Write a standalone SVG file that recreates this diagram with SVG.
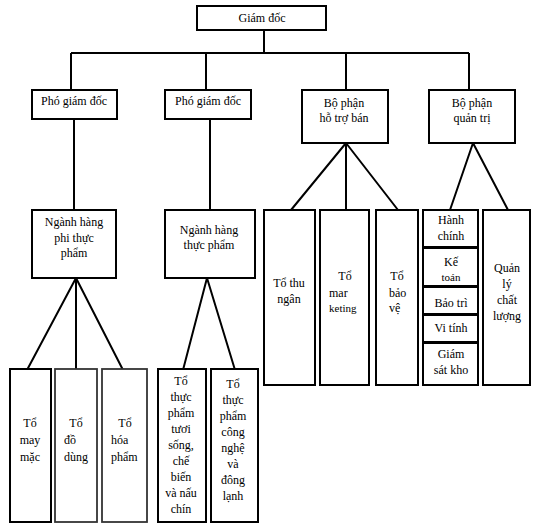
<svg xmlns="http://www.w3.org/2000/svg" width="537" height="532" viewBox="0 0 537 532">
<style>
.b{fill:#fff;stroke:#000;stroke-width:2}
.g{fill:#fff;stroke:#333;stroke-width:1.8}
.c{fill:none;stroke:#000;stroke-width:2}
text{font-family:"Liberation Serif","Times New Roman",serif;font-size:12px;fill:#000}
.m{text-anchor:middle}
.s{font-size:11px}
</style>
<rect width="537" height="532" fill="#fff"/>
<g id="connectors">
<path class="c" d="M264 30V53M71 53H469M71 53V90M206 53V90M346 53V90M469 53V90"/>
<path class="c" d="M74 119V210M210 119V210"/>
<path class="c" d="M76 278L27 370M76 278V370M76 278L123 370"/>
<path class="c" d="M207 278L183 370M207 278L235 370"/>
<path class="c" d="M346 143L291 210M346 143V210M346 143L398 210"/>
<path class="c" d="M473 143L450 210M473 143L508 210"/>
</g>
<g id="giamdoc"><rect class="b" x="197" y="6" width="129" height="24"/><text class="m" x="262" y="22">Giám đốc</text></g>
<g id="pgd1"><rect class="b" x="32" y="90" width="85" height="29"/><text class="m" x="74" y="105">Phó giám đốc</text></g>
<g id="pgd2"><rect class="b" x="165" y="90" width="86" height="29"/><text class="m" x="208" y="105">Phó giám đốc</text></g>
<g id="hotroban"><rect class="b" x="302" y="90" width="86" height="53"/><text class="m" x="344" y="107">Bộ phận</text><text class="m" x="344" y="122">hỗ trợ bán</text></g>
<g id="quantri"><rect class="b" x="429" y="90" width="86" height="53"/><text class="m" x="472" y="107">Bộ phận</text><text class="m" x="472" y="122">quản trị</text></g>
<g id="phithucpham"><rect class="b" x="32" y="210" width="84" height="68"/><text class="m" x="74" y="226">Ngành hàng</text><text class="m" x="74" y="242">phi thực</text><text class="m" x="74" y="257">phẩm</text></g>
<g id="thucpham"><rect class="b" x="165" y="210" width="90" height="68"/><text class="m" x="209" y="234">Ngành hàng</text><text class="m" x="209" y="249">thực phẩm</text></g>
<g id="maymac"><rect class="b" x="10" y="369" width="41" height="153"/><text class="m" x="30" y="427">Tổ</text><text class="m" x="30" y="444">may</text><text class="m" x="30" y="461">mặc</text></g>
<g id="dodung"><rect class="g" x="55" y="369" width="42" height="153"/><text class="m" x="76" y="427">Tổ</text><text x="64" y="444">đồ</text><text x="64" y="461">dùng</text></g>
<g id="hoapham"><rect class="g" x="102" y="369" width="45" height="153"/><text class="m" x="125" y="427">Tổ</text><text x="111" y="444">hóa</text><text x="111" y="461">phẩm</text></g>
<g id="tuoisong"><rect class="b" x="158" y="369" width="48" height="153"/><text class="m" x="181" y="385">Tổ</text><text class="m" x="181" y="401">thực</text><text class="m" x="181" y="417">phẩm</text><text class="m" x="181" y="433">tươi</text><text class="m" x="181" y="449">sống,</text><text class="m" x="181" y="465">chế</text><text class="m" x="181" y="481">biến</text><text class="m" x="181" y="497">và nấu</text><text class="m" x="181" y="513">chín</text></g>
<g id="congnghe"><rect class="b" x="211" y="369" width="47" height="153"/><text class="m" x="233" y="388">Tổ</text><text class="m" x="233" y="404">thực</text><text class="m" x="233" y="420">phẩm</text><text class="m" x="233" y="436">công</text><text class="m" x="233" y="452">nghệ</text><text class="m" x="233" y="468">và</text><text class="m" x="233" y="484">đông</text><text class="m" x="233" y="500">lạnh</text></g>
<g id="thungan"><rect class="b" x="264" y="210" width="51" height="175"/><text class="m" x="289" y="287">Tổ thu</text><text class="m" x="289" y="303">ngân</text></g>
<g id="marketing"><rect class="b" x="320" y="210" width="49" height="175"/><text class="m" x="345" y="280">Tổ</text><text x="329" y="297">mar</text><text class="s" x="329" y="312">keting</text></g>
<g id="baove"><rect class="b" x="376" y="210" width="42" height="175"/><text class="m" x="397" y="280">Tổ</text><text x="389" y="297">bảo</text><text x="389" y="312">vệ</text></g>
<g id="hanhchinh"><rect class="b" x="423" y="210" width="55" height="37"/><text class="m" x="451" y="224">Hành</text><text class="m" x="451" y="240">chính</text></g>
<g id="ketoan"><rect class="b" x="423" y="248" width="55" height="38"/><text class="m" x="451" y="266">Kế</text><text class="m s" x="451" y="281">toán</text></g>
<g id="baotri"><rect class="b" x="423" y="287" width="55" height="27"/><text class="m" x="451" y="307">Bảo trì</text></g>
<g id="vitinh"><rect class="b" x="423" y="315" width="55" height="27"/><text class="m" x="451" y="332">Vi tính</text></g>
<g id="giamsatkho"><rect class="b" x="423" y="343" width="55" height="42"/><text class="m" x="451" y="358">Giám</text><text class="m" x="451" y="374">sát kho</text></g>
<g id="chatluong"><rect class="b" x="483" y="210" width="47" height="175"/><text class="m" x="507" y="272">Quản</text><text class="m" x="507" y="288">lý</text><text class="m" x="507" y="304">chất</text><text class="m" x="507" y="320">lượng</text></g>
</svg>
